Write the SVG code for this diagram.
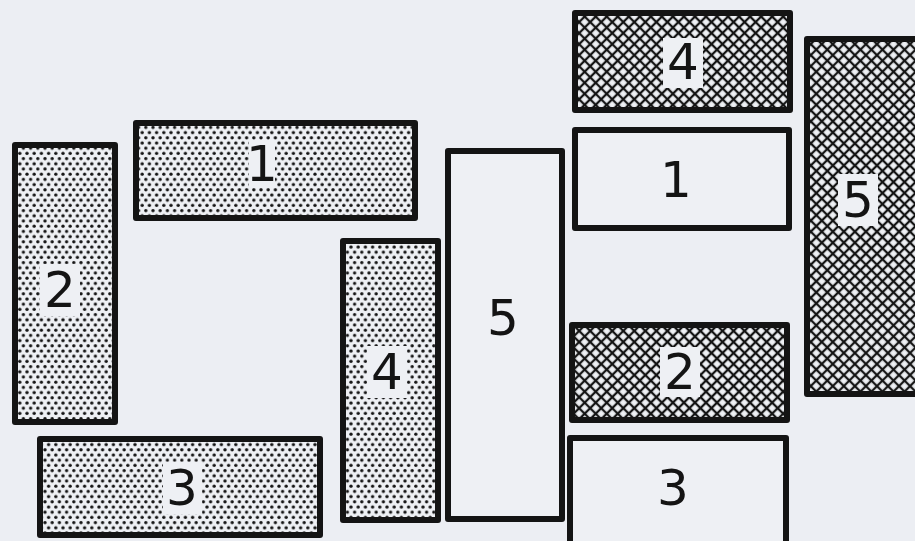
<svg xmlns="http://www.w3.org/2000/svg" width="915" height="541" viewBox="0 0 915 541">
<defs>
<pattern id="dots" width="7.2" height="10.4" patternUnits="userSpaceOnUse">
<circle cx="1.8" cy="2.6" r="1.65" fill="#141414"/>
<circle cx="5.4" cy="7.8" r="1.65" fill="#141414"/>
</pattern>
<pattern id="hatch" width="7.8" height="7.8" patternUnits="userSpaceOnUse" patternTransform="rotate(45)">
<rect width="7.8" height="7.8" fill="#eef0f4"/>
<line x1="0" y1="3.9" x2="7.8" y2="3.9" stroke="#141414" stroke-width="2.3"/>
<line x1="3.9" y1="0" x2="3.9" y2="7.8" stroke="#141414" stroke-width="2.3"/>
</pattern>
<style>
.box{stroke:#141414;stroke-width:6;stroke-linejoin:round}
.dot{fill:url(#dots)}
.hat{fill:url(#hatch)}
.pl{fill:#eef0f4}
.ko{fill:#eef0f4}
.lb{font-family:"DejaVu Sans","Liberation Sans",sans-serif;font-size:50px;fill:#141414;text-anchor:middle;dominant-baseline:central}
</style>
</defs>
<rect width="915" height="541" fill="#eceef3"/>
<g id="dotted-1">
<rect class="box pl" x="136" y="123" width="279" height="95"/>
<rect class="dot" x="139" y="126" width="273" height="89"/>
<rect class="ko" x="249" y="140" width="26" height="48"/>
<text class="lb" x="262" y="164">1</text>
</g>
<g id="dotted-2">
<rect class="box pl" x="15" y="145" width="100" height="277"/>
<rect class="dot" x="18" y="148" width="94" height="271"/>
<rect class="ko" x="40" y="264" width="40" height="52"/>
<text class="lb" x="60" y="290">2</text>
</g>
<g id="dotted-3">
<rect class="box pl" x="40" y="439" width="280" height="96"/>
<rect class="dot" x="43" y="442" width="274" height="90"/>
<rect class="ko" x="163" y="462" width="39" height="52"/>
<text class="lb" x="182" y="488">3</text>
</g>
<g id="dotted-4">
<rect class="box pl" x="343" y="241" width="95" height="279"/>
<rect class="dot" x="346" y="244" width="89" height="273"/>
<rect class="ko" x="367" y="346" width="40" height="52"/>
<text class="lb" x="387" y="372">4</text>
</g>
<g id="plain-5">
<rect class="box pl" x="448" y="151" width="114" height="368"/>
<text class="lb" x="503" y="318">5</text>
</g>
<g id="hatch-4">
<rect class="box hat" x="575" y="13" width="215" height="97"/>
<rect class="ko" x="663" y="38" width="40" height="50"/>
<text class="lb" x="683" y="62">4</text>
</g>
<g id="plain-1">
<rect class="box pl" x="575" y="130" width="214" height="98"/>
<text class="lb" x="676" y="180">1</text>
</g>
<g id="hatch-2">
<rect class="box hat" x="572" y="325" width="215" height="95"/>
<rect class="ko" x="660" y="347" width="40" height="50"/>
<text class="lb" x="680" y="372">2</text>
</g>
<g id="plain-3">
<rect class="box pl" x="570" y="438" width="216" height="110"/>
<text class="lb" x="673" y="488">3</text>
</g>
<g id="hatch-5">
<rect class="box hat" x="807" y="39" width="120" height="355"/>
<rect class="ko" x="838" y="174" width="40" height="52"/>
<text class="lb" x="858" y="200">5</text>
</g>
<g id="connectors"/>
</svg>
